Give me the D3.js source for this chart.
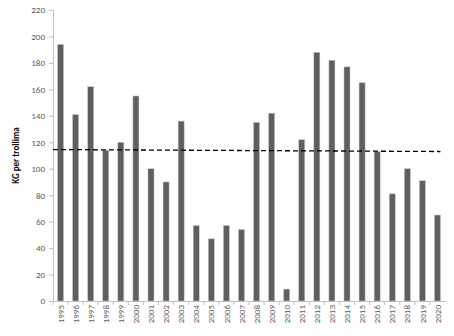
<!DOCTYPE html>
<html>
	<head>
		<meta charset="utf-8" />
		<style type="text/css">
			body { margin: 0; background: #fff; }
			text { font-family: Carlito, "Liberation Sans", "DejaVu Sans", sans-serif; }
		</style>
	</head>
	<body>
		<svg width="454" height="336"></svg>

		<script type="text/javascript" src="https://cdn.jsdelivr.net/npm/d3@7/dist/d3.min.js"></script>
		<script type="text/javascript">
			// data
			var years = ["1995", "1996", "1997", "1998", "1999", "2000", "2001", "2002", "2003", "2004",
				"2005", "2006", "2007", "2008", "2009", "2010", "2011", "2012", "2013", "2014",
				"2015", "2016", "2017", "2018", "2019", "2020"];
			var kg = [194, 141, 162, 114, 120, 155, 100, 90, 136, 57,
				47, 57, 54, 135, 142, 9, 122, 188, 182, 177,
				165, 113, 81, 100, 91, 65];
			var trend = [114.5, 113];
			var yTicks = [0, 20, 40, 60, 80, 100, 120, 140, 160, 180, 200, 220];

			// note: "top" is reserved on window, so use plot* names
			var svg = d3.select("svg"),
				plotLeft = 53, plotRight = 445, plotTop = 10, plotBottom = 301;

			var x = d3.scaleBand()
				.domain(years)
				.range([plotLeft, plotRight])
				.paddingInner(0.6)
				.paddingOuter(0.3);

			var y = d3.scaleLinear()
				.domain([0, 220])
				.range([plotBottom, plotTop]);

			// y axis
			var yAxis = svg.append("g")
				.attr("transform", "translate(" + plotLeft + ",0)")
				.call(d3.axisLeft(y).tickValues(yTicks).tickSize(4).tickPadding(4));
			yAxis.select(".domain").attr("stroke", "#bfbfbf");
			yAxis.selectAll(".tick line").attr("stroke", "#bfbfbf");
			yAxis.selectAll(".tick text").attr("fill", "#595959").style("font-size", "9px");

			// x axis, ticks sit between categories
			var xAxis = svg.append("g")
				.attr("transform", "translate(0," + plotBottom + ")")
				.call(d3.axisBottom(x).tickSize(0).tickPadding(4));
			xAxis.select(".domain").attr("stroke", "#bfbfbf");
			xAxis.selectAll(".tick text")
				.attr("fill", "#595959")
				.style("font-size", "9px")
				.attr("text-anchor", "end")
				.attr("transform", "rotate(-90)")
				.attr("x", -4)
				.attr("y", 0)
				.attr("dy", "0.35em");

			var step = x.step();
			svg.append("g").selectAll("line")
				.data(years)
				.enter().append("line")
				.attr("x1", function(d) { return x(d) - step * 0.3; })
				.attr("x2", function(d) { return x(d) - step * 0.3; })
				.attr("y1", plotBottom)
				.attr("y2", plotBottom + 4)
				.attr("stroke", "#bfbfbf");

			// bars
			svg.append("g").selectAll("rect")
				.data(kg)
				.enter().append("rect")
				.attr("x", function(d, i) { return x(years[i]); })
				.attr("y", function(d) { return y(d); })
				.attr("width", x.bandwidth())
				.attr("height", function(d) { return plotBottom - y(d); })
				.attr("fill", "#5f5f5f")
				.attr("stroke", "#c8c8c8")
				.attr("stroke-width", 0.5);

			// trend line
			svg.append("line")
				.attr("x1", plotLeft)
				.attr("x2", x(years[years.length - 1]) + x.bandwidth())
				.attr("y1", y(trend[0]))
				.attr("y2", y(trend[1]))
				.attr("stroke", "#000")
				.attr("stroke-width", 1.3)
				.attr("stroke-dasharray", "5,3");

			// y label
			svg.append("text")
				.attr("transform", "translate(19," + ((plotTop + plotBottom) / 2) + ") rotate(-90)")
				.attr("text-anchor", "middle")
				.style("font-size", "9px")
				.style("font-weight", "bold")
				.text("KG per trollima");
		</script>
	</body>
</html>
